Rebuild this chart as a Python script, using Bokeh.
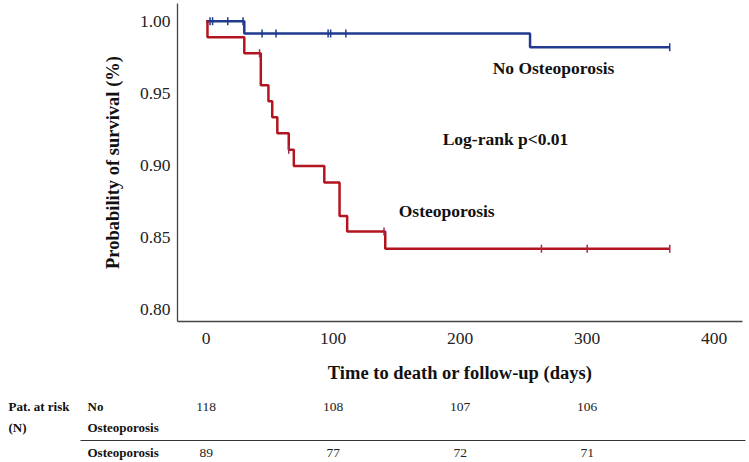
import numpy as np
from bokeh.plotting import figure
from bokeh.layouts import column
from bokeh.models import Range1d, PrintfTickFormatter
from bokeh.core.properties import value
from bokeh.embed import file_html
from bokeh.resources import INLINE

# ---- data ----
no_op_times = [0, 30, 255, 365]
no_op_surv = [1.0, 0.9915, 0.982, 0.982]
no_op_censor = [3, 5, 17, 29, 44, 55, 96, 98, 110, 365]

op_times = [0, 1, 30, 43, 49, 52, 56, 65, 69, 93, 105, 111, 141, 365]
op_surv = [1.0, 0.9888, 0.9778, 0.9556, 0.9444, 0.9333, 0.9222, 0.9108,
           0.8994, 0.8880, 0.8647, 0.8540, 0.8420, 0.8420]
op_censor = [42, 65, 140, 264, 300, 365]

x_ticks = [0, 100, 200, 300, 400]
y_ticks = [0.80, 0.85, 0.90, 0.95, 1.00]

risk_days = [0, 100, 200, 300]
risk_groups = ["No\nOsteoporosis", "Osteoporosis"]
risk_no_op = [118, 108, 107, 106]
risk_op = [89, 77, 72, 71]

BLUE = "#1f3a8e"
RED = "#b2151f"
FONT = "Liberation Serif"


def surv_at(times, surv, t):
    idx = np.searchsorted(np.array(times), np.array(t), side="right") - 1
    return [surv[i] for i in idx]


p = figure(width=749, height=390, x_range=Range1d(-22.6, 422.3),
           y_range=Range1d(0.7915, 1.0123), output_backend="svg",
           toolbar_location=None, min_border_left=177, min_border_right=7,
           min_border_top=3, min_border_bottom=69)
p.outline_line_color = None
p.grid.visible = False
p.background_fill_color = "white"
if hasattr(p, "frame_align"):
    p.frame_align = False

for ax in (p.xaxis[0], p.yaxis[0]):
    ax.axis_line_color = "#444444"
    ax.axis_line_width = 1.3
    ax.major_tick_line_color = None
    ax.minor_tick_line_color = None
    ax.major_label_text_font = FONT
    ax.major_label_text_font_size = "17.5px"
    ax.major_label_text_color = "#222222"
    ax.axis_label_text_font = FONT
    ax.axis_label_text_font_style = "bold"
    ax.axis_label_text_font_size = "18.5px"
    ax.axis_label_text_color = "#111111"

p.xaxis.ticker = x_ticks
p.yaxis.ticker = y_ticks
p.yaxis.formatter = PrintfTickFormatter(format="%.2f")
p.xaxis.axis_label = "Time to death or follow-up (days)"
p.yaxis.axis_label = "Probability of survival (%)"
p.xaxis.major_label_standoff = 5
p.xaxis.axis_label_standoff = 16
p.yaxis.major_label_standoff = 1
p.yaxis.axis_label_standoff = 14

p.step(no_op_times, no_op_surv, mode="after", line_color=BLUE, line_width=2.5)
p.step(op_times, op_surv, mode="after", line_color=RED, line_width=2.5)

p.scatter(no_op_censor, surv_at(no_op_times, no_op_surv, no_op_censor),
          marker="dash", angle=np.pi / 2, size=8, line_color=BLUE, line_width=1.5)
p.scatter(op_censor, surv_at(op_times, op_surv, op_censor),
          marker="dash", angle=np.pi / 2, size=8, line_color="#a02a50", line_width=1.5)

p.text(x=[273.5], y=[0.9678], text=["No Osteoporosis"], text_font=value(FONT),
       text_font_style="bold", text_font_size="17.5px", text_align="center",
       text_baseline="middle", text_color="#111111")
p.text(x=[235.7], y=[0.9185], text=["Log-rank p<0.01"], text_font=value(FONT),
       text_font_style="bold", text_font_size="17.5px", text_align="center",
       text_baseline="middle", text_color="#111111")
p.text(x=[151.6], y=[0.868], text=["Osteoporosis"], text_font=value(FONT),
       text_font_style="bold", text_font_size="17.5px", text_align="left",
       text_baseline="middle", text_color="#111111")

# ---- risk table (x in days, same scale as the plot, frame spanning full width) ----
t = figure(width=749, height=72, x_range=Range1d(-162.0, 427.8), y_range=Range1d(72, 0),
           output_backend="svg", toolbar_location=None, min_border=0)
t.axis.visible = False
t.grid.visible = False
t.outline_line_color = None
if hasattr(t, "frame_align"):
    t.frame_align = False

TS = "13px"
label_x = -155.7
group_x = -93.5
row_y = [16, 62]

t.text(x=[label_x, label_x], y=[16, 37], text=["Pat. at risk", "(N)"], text_font=value(FONT),
       text_font_style="bold", text_font_size=TS, text_baseline="middle",
       text_color="#111111")
t.text(x=[group_x, group_x, group_x], y=[16, 37, 62],
       text=risk_groups[0].split("\n") + [risk_groups[1]], text_font=value(FONT),
       text_font_style="bold", text_font_size=TS, text_baseline="middle",
       text_color="#111111")
t.text(x=risk_days, y=[row_y[0]] * len(risk_no_op), text=[str(v) for v in risk_no_op],
       text_font=value(FONT), text_font_size="13.5px", text_align="center",
       text_baseline="middle", text_color="#222222")
t.text(x=risk_days, y=[row_y[1]] * len(risk_op), text=[str(v) for v in risk_op],
       text_font=value(FONT), text_font_size="13.5px", text_align="center",
       text_baseline="middle", text_color="#222222")
t.segment(x0=[-99], y0=[50], x1=[424.6], y1=[50], line_color="#333333", line_width=1.2)

layout = column(p, t, spacing=0)
open("out.html", "w").write(file_html(layout, INLINE))
